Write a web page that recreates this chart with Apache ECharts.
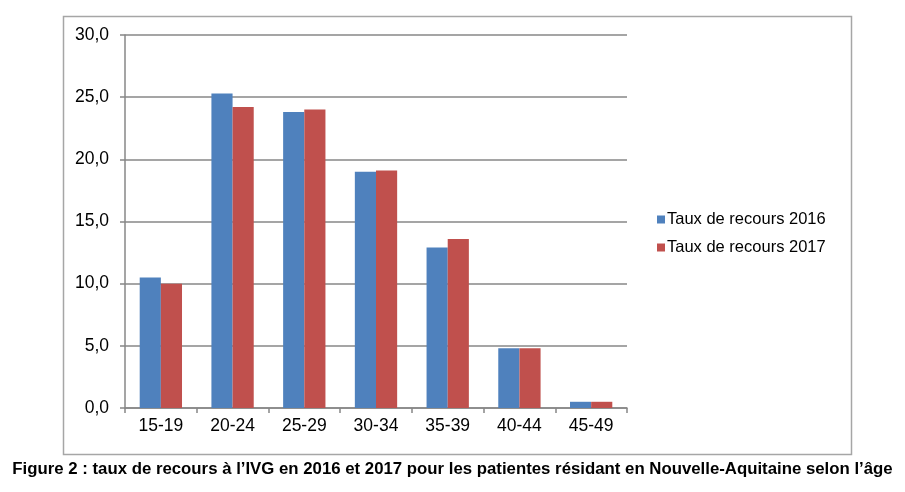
<!DOCTYPE html>
<html>
<head>
<meta charset="utf-8">
<script src="https://cdn.jsdelivr.net/npm/echarts@6/dist/echarts.min.js"></script>
<style>
html,body{margin:0;padding:0;background:#fff;}
#chart{width:905px;height:492px;}
</style>
</head>
<body>
<div id="chart"></div>
<script>
const categories = ['15-19','20-24','25-29','30-34','35-39','40-44','45-49'];
const taux2016 = [10.5, 25.3, 23.8, 19.0, 12.9, 4.8, 0.5];
const taux2017 = [10.0, 24.2, 24.0, 19.1, 13.6, 4.8, 0.5];
const seriesNames = ['Taux de recours 2016', 'Taux de recours 2017'];
const caption = 'Figure 2 : taux de recours à l’IVG en 2016 et 2017 pour les patientes résidant en Nouvelle-Aquitaine selon l’âge';

const chart = echarts.init(document.getElementById('chart'), null, {renderer:'canvas'});
const font = 'Liberation Sans, Arial, sans-serif';
chart.setOption({
  animation:false,
  backgroundColor:'#fff',
  textStyle:{fontFamily:font},
  graphic:[{
    type:'rect', left:61, top:14, shape:{width:788, height:438},
    style:{fill:'none', stroke:'#a6a6a6', lineWidth:1.5}, z:-1
  }],
  title:{
    text:caption, left:'center', top:456,
    textStyle:{fontFamily:font, fontSize:16.8, fontWeight:'bold', color:'#000'}
  },
  legend:{
    orient:'vertical', left:652, top:206, itemWidth:8, itemHeight:8, itemGap:11,
    icon:'rect',
    textStyle:{fontFamily:font, fontSize:16.5, color:'#000', padding:[0,0,0,-3]},
    data:seriesNames
  },
  grid:{left:125, right:278, top:35, bottom:84},
  xAxis:{
    type:'category', data:categories,
    axisLine:{lineStyle:{color:'#878787', width:1.5}},
    axisTick:{show:true, length:5, alignWithLabel:false, lineStyle:{color:'#878787', width:1.5}},
    axisLabel:{fontFamily:font, fontSize:17.5, color:'#000', margin:9}
  },
  yAxis:{
    type:'value', min:0, max:30, interval:5,
    axisLine:{show:true, lineStyle:{color:'#878787', width:1.5}},
    axisTick:{show:true, length:5, lineStyle:{color:'#878787', width:1.5}},
    splitLine:{lineStyle:{color:'#878787', width:1.5}},
    axisLabel:{fontFamily:font, fontSize:17.5, color:'#000', margin:16,
      formatter:v=>v.toFixed(1).replace('.',',')}
  },
  series:[
    {name:seriesNames[0], type:'bar', data:taux2016, barGap:'0%', barCategoryGap:'41%',
     itemStyle:{color:'#4f81bd'}},
    {name:seriesNames[1], type:'bar', data:taux2017, barGap:'0%', barCategoryGap:'41%',
     itemStyle:{color:'#c0504d'}}
  ]
});
</script>
</body>
</html>
